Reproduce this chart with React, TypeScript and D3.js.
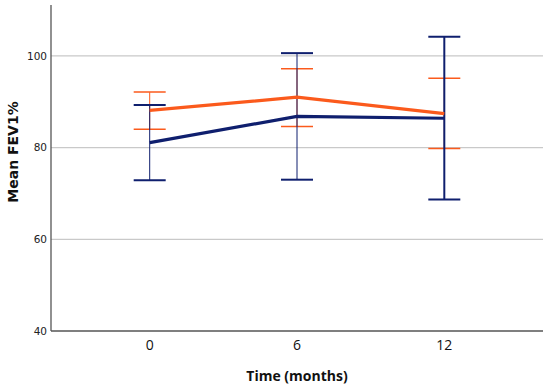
import * as d3 from "d3";
import {useRef, useEffect} from "react";

// time points (months)
const times = ["0", "6", "12"];
// group means and error bar limits
const orangeMean = [88.1, 91.0, 87.4];
const orangeLow = [84.0, 84.6, 79.8];
const orangeHigh = [92.1, 97.2, 95.1];
const blueMean = [81.1, 86.8, 86.4];
const blueLow = [72.9, 73.0, 68.7];
const blueHigh = [89.3, 100.6, 104.2];
const yTicks = [40, 60, 80, 100];

const ORANGE = "#fb5a1c";
const NAVY = "#0f1f6e";

const App = () => {
    const ref = useRef<SVGSVGElement>(null);

    useEffect(() => {
        const width = 550, height = 384;
        const left = 51, right = 543, top = 5, bottom = 331;
        const svg = d3.select(ref.current);
        svg.selectAll("*").remove();

        const x = d3.scalePoint().domain(times).range([left, right]).padding(0.67);
        const y = d3.scaleLinear().domain([40, 111.1]).range([bottom, top]);

        // gridlines
        svg.append("g")
            .selectAll("line")
            .data(yTicks.filter(d => d > 40))
            .join("line")
            .attr("x1", left).attr("x2", right)
            .attr("y1", d => y(d)).attr("y2", d => y(d))
            .attr("stroke", "#c9c9c9").attr("stroke-width", 1.2);

        // axes
        svg.append("line").attr("x1", left).attr("x2", left).attr("y1", top).attr("y2", bottom)
            .attr("stroke", "#555").attr("stroke-width", 1.3);
        svg.append("line").attr("x1", left).attr("x2", right).attr("y1", bottom).attr("y2", bottom)
            .attr("stroke", "#555").attr("stroke-width", 1.3);

        svg.append("g")
            .attr("font-family", "DejaVu Sans, sans-serif")
            .attr("font-size", 10.5)
            .attr("fill", "#222")
            .selectAll("text")
            .data(yTicks)
            .join("text")
            .attr("x", left - 4)
            .attr("y", d => y(d))
            .attr("dy", "0.35em")
            .attr("text-anchor", "end")
            .text(d => d);

        svg.append("g")
            .attr("font-family", "Open Sans, sans-serif")
            .attr("font-size", 14)
            .attr("fill", "#111")
            .selectAll("text")
            .data(times)
            .join("text")
            .attr("x", d => x(d)!)
            .attr("y", 350)
            .attr("text-anchor", "middle")
            .text(d => d);

        svg.append("text")
            .attr("x", 297).attr("y", 381)
            .attr("text-anchor", "middle")
            .attr("font-family", "Open Sans, sans-serif")
            .attr("font-weight", "bold").attr("font-size", 14)
            .attr("fill", "#111")
            .text("Time (months)");

        svg.append("text")
            .attr("transform", "translate(18,152) rotate(-90)")
            .attr("text-anchor", "middle")
            .attr("font-family", "DejaVu Sans, sans-serif")
            .attr("font-weight", "bold").attr("font-size", 14)
            .attr("fill", "#111")
            .text("Mean FEV1%");

        const cap = 16;
        const drawBars = (low: number[], high: number[], color: string, sw: number[], capW: number) => {
            const g = svg.append("g").attr("stroke", color);
            times.forEach((t, i) => {
                const cx = x(t)!;
                g.append("line").attr("x1", cx).attr("x2", cx)
                    .attr("y1", y(low[i])).attr("y2", y(high[i])).attr("stroke-width", sw[i]);
                [low[i], high[i]].forEach(v => {
                    g.append("line").attr("x1", cx - cap).attr("x2", cx + cap)
                        .attr("y1", y(v)).attr("y2", y(v)).attr("stroke-width", capW);
                });
            });
        };

        drawBars(orangeLow, orangeHigh, ORANGE, [1, 1, 1], 1.5);
        drawBars(blueLow, blueHigh, NAVY, [1, 1, 2], 2);

        const line = d3.line<number>()
            .x((d, i) => x(times[i])!)
            .y(d => y(d));

        svg.append("path").datum(orangeMean).attr("d", line)
            .attr("fill", "none").attr("stroke", ORANGE).attr("stroke-width", 3.2);
        svg.append("path").datum(blueMean).attr("d", line)
            .attr("fill", "none").attr("stroke", NAVY).attr("stroke-width", 3.2);

        svg.attr("width", width).attr("height", height);
    }, []);

    return (
        <div style={{position: "absolute", left: 0, top: 0, background: "#fff"}}>
            <svg ref={ref} width={550} height={384} style={{display: "block"}}></svg>
        </div>
    );
};

export default App;
